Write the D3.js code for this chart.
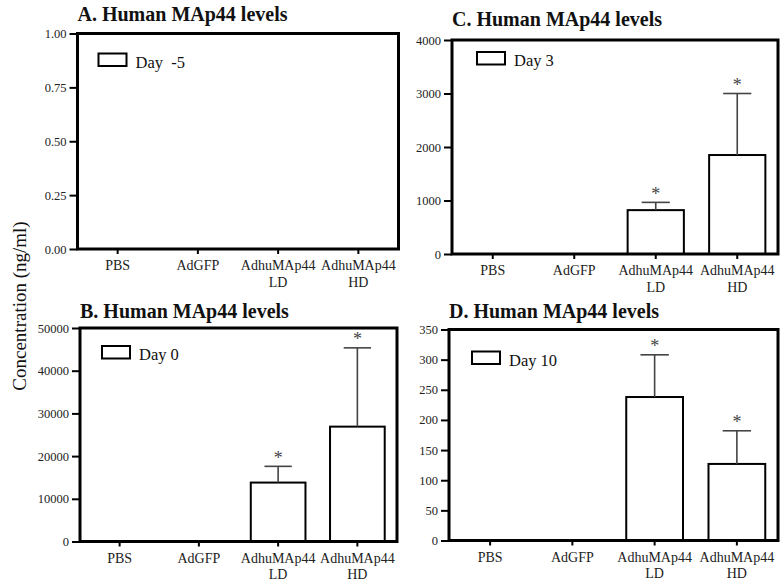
<!DOCTYPE html>
<html>
<head>
<meta charset="utf-8">
<script src="https://cdn.jsdelivr.net/npm/d3@7"></script>
<style>
  html, body { margin: 0; padding: 0; background: #fff; }
  svg { display: block; }
  text { font-family: "Liberation Serif", "Times New Roman", serif; }
</style>
</head>
<body>
<svg id="chart" width="783" height="585"></svg>
<script>
// ---- data ----
const categories = ["PBS", "AdGFP", "AdhuMAp44 LD", "AdhuMAp44 HD"];
const categoryLines = [["PBS"], ["AdGFP"], ["AdhuMAp44", "LD"], ["AdhuMAp44", "HD"]];
const panelTitles = ["A. Human MAp44 levels", "B. Human MAp44 levels", "C. Human MAp44 levels", "D. Human MAp44 levels"];
const legendLabels = ["Day  -5", "Day 0", "Day 3", "Day 10"];

const dayMinus5Values = [0, 0, 0, 0];
const dayMinus5Errors = [0, 0, 0, 0];
const dayMinus5Signif = [false, false, false, false];

const day0Values = [0, 0, 13800, 26900];
const day0Errors = [0, 0, 3800, 18450];
const day0Signif = [false, false, true, true];

const day3Values = [0, 0, 820, 1850];
const day3Errors = [0, 0, 145, 1150];
const day3Signif = [false, false, true, true];

const day10Values = [0, 0, 238, 127];
const day10Errors = [0, 0, 70, 55];
const day10Signif = [false, false, true, true];

const yTicksA = [0, 0.25, 0.5, 0.75, 1];
const yTicksB = [0, 10000, 20000, 30000, 40000, 50000];
const yTicksC = [0, 1000, 2000, 3000, 4000];
const yTicksD = [0, 50, 100, 150, 200, 250, 300, 350];
const yAxisLabel = "Concentration (ng/ml)";

// ---- layout ----
const panels = [
  { title: panelTitles[0], legend: legendLabels[0], values: dayMinus5Values, errors: dayMinus5Errors, signif: dayMinus5Signif,
    ticks: yTicksA, fmt: d3.format(".2f"), box: { l: 77.5, r: 398.5, t: 33.5, b: 249 }, titleY: 21, legOff: [21, 20] },
  { title: panelTitles[1], legend: legendLabels[1], values: day0Values, errors: day0Errors, signif: day0Signif,
    ticks: yTicksB, fmt: d3.format("d"), box: { l: 80, r: 397, t: 328, b: 541.5 }, titleY: 318, legOff: [22, 18] },
  { title: panelTitles[2], legend: legendLabels[2], values: day3Values, errors: day3Errors, signif: day3Signif,
    ticks: yTicksC, fmt: d3.format("d"), box: { l: 452, r: 778, t: 40, b: 254 }, titleY: 26, legOff: [25, 12] },
  { title: panelTitles[3], legend: legendLabels[3], values: day10Values, errors: day10Errors, signif: day10Signif,
    ticks: yTicksD, fmt: d3.format("d"), box: { l: 449, r: 778, t: 329.5, b: 540.5 }, titleY: 318, legOff: [23, 22] }
];

const svg = d3.select("#chart");
svg.append("rect").attr("width", 783).attr("height", 585).attr("fill", "#fff");

panels.forEach(p => {
  const g = svg.append("g");
  const { l, r, t, b } = p.box;

  const x = d3.scaleBand().domain(categories).range([l, r]).paddingInner(0.31).paddingOuter(0.155);
  const y = d3.scaleLinear().domain([0, d3.max(p.ticks)]).range([b, t]);

  // title
  g.append("text").attr("x", l).attr("y", p.titleY)
    .attr("font-size", 20).attr("font-weight", "bold").attr("fill", "#111")
    .text(p.title);

  // left axis
  const ay = g.append("g").attr("transform", `translate(${l},0)`)
    .call(d3.axisLeft(y).tickValues(p.ticks).tickFormat(p.fmt).tickSize(8).tickPadding(3));
  ay.select(".domain").remove();
  ay.selectAll(".tick line").attr("stroke", "#000").attr("stroke-width", 2);
  ay.selectAll(".tick text").attr("font-size", 12.5).attr("fill", "#222")
    .style("font-family", "'Liberation Serif', serif");

  // bottom axis
  const ax = g.append("g").attr("transform", `translate(0,${b})`)
    .call(d3.axisBottom(x).tickSize(5).tickFormat(""));
  ax.select(".domain").remove();
  ax.selectAll(".tick line").attr("stroke", "#000").attr("stroke-width", 2);
  categories.forEach((c, i) => {
    const tx = g.append("text").attr("x", x(c) + x.bandwidth() / 2).attr("y", b + 21)
      .attr("text-anchor", "middle").attr("font-size", 14).attr("fill", "#222");
    categoryLines[i].forEach((line, j) => {
      tx.append("tspan").attr("x", x(c) + x.bandwidth() / 2).attr("dy", j === 0 ? 0 : 16.5).text(line);
    });
  });

  // bars
  const data = categories.map((c, i) => ({ c, v: p.values[i], e: p.errors[i], s: p.signif[i] }))
    .filter(d => d.v > 0);
  g.selectAll("rect.bar").data(data).enter().append("rect").attr("class", "bar")
    .attr("x", d => x(d.c)).attr("width", x.bandwidth())
    .attr("y", d => y(d.v)).attr("height", d => y(0) - y(d.v))
    .attr("fill", "#fff").attr("stroke", "#000").attr("stroke-width", 2);

  // error bars
  const cx = d => x(d.c) + x.bandwidth() / 2;
  const capW = x.bandwidth() / 2;
  g.selectAll("line.err").data(data).enter().append("line").attr("class", "err")
    .attr("x1", cx).attr("x2", cx).attr("y1", d => y(d.v)).attr("y2", d => y(d.v + d.e))
    .attr("stroke", "#444").attr("stroke-width", 1.6);
  g.selectAll("line.cap").data(data).enter().append("line").attr("class", "cap")
    .attr("x1", d => cx(d) - capW / 2).attr("x2", d => cx(d) + capW / 2)
    .attr("y1", d => y(d.v + d.e)).attr("y2", d => y(d.v + d.e))
    .attr("stroke", "#444").attr("stroke-width", 1.6);
  g.selectAll("text.star").data(data.filter(d => d.s)).enter().append("text").attr("class", "star")
    .attr("x", cx).attr("y", d => y(d.v + d.e) - 2.5)
    .attr("text-anchor", "middle").attr("font-size", 18).attr("fill", "#444").text("*");

  // frame
  g.append("rect").attr("x", l).attr("y", t).attr("width", r - l).attr("height", b - t)
    .attr("fill", "none").attr("stroke", "#000").attr("stroke-width", 3);

  // legend
  const lx = l + p.legOff[0], ly = t + p.legOff[1];
  g.append("rect").attr("x", lx).attr("y", ly).attr("width", 28).attr("height", 12.5)
    .attr("fill", "#fff").attr("stroke", "#000").attr("stroke-width", 2);
  g.append("text").attr("x", lx + 37).attr("y", ly + 14).attr("font-size", 16.5).attr("fill", "#111")
    .attr("xml:space", "preserve").style("white-space", "pre")
    .text(p.legend);
});

// shared y label
svg.append("text").attr("transform", "translate(26,306) rotate(-90)")
  .attr("text-anchor", "middle").attr("font-size", 19).attr("fill", "#111")
  .text(yAxisLabel);
</script>
</body>
</html>
